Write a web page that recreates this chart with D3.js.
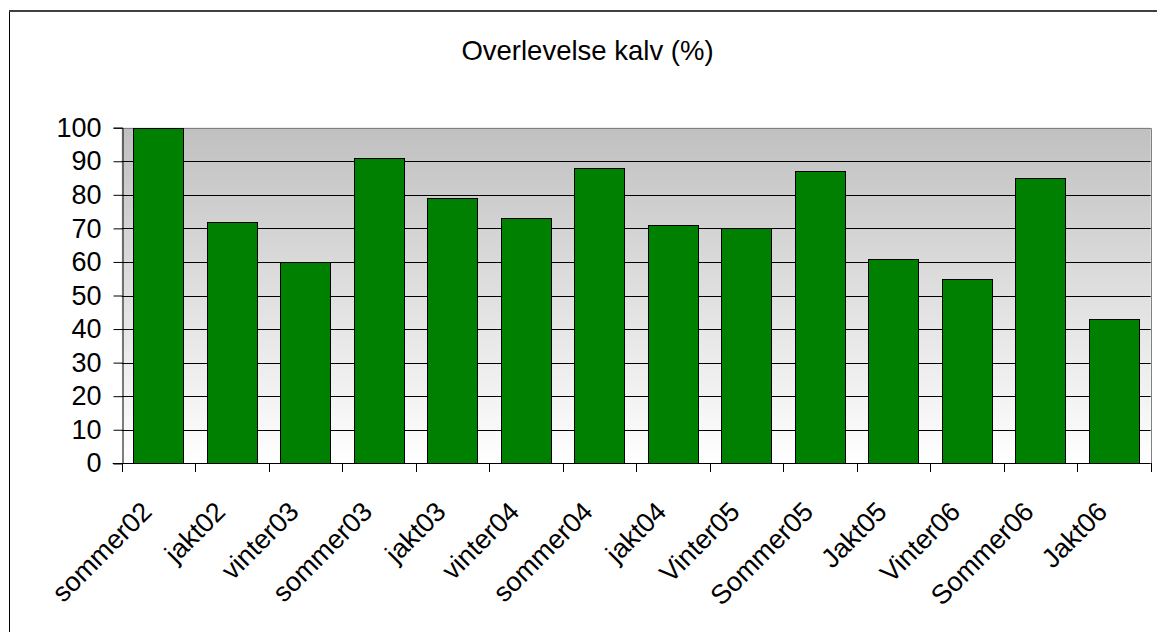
<!DOCTYPE html>
<html><head><meta charset="utf-8">
<script src="https://cdn.jsdelivr.net/npm/d3@7"></script>
<style>body{margin:0;background:#fff;} text{font-family:Arial,"Liberation Sans",sans-serif;}</style>
</head><body>
<svg id="c" width="1157" height="632"></svg>
<script>
const categories = ["sommer02","jakt02","vinter03","sommer03","jakt03","vinter04","sommer04","jakt04","Vinter05","Sommer05","Jakt05","Vinter06","Sommer06","Jakt06"];
const values = [100,72,60,91,79,73,88,71,70,87,61,55,85,43];
const yTicks = [0,10,20,30,40,50,60,70,80,90,100];
const title = "Overlevelse kalv (%)";

const svg = d3.select("#c");
const L = 121.7, R = 1150.7, T = 127.7, B = 463.3;
const x = d3.scaleBand().domain(categories).range([L, R]).paddingInner(0.32).paddingOuter(0.16);
const xb = d3.scaleBand().domain(categories).range([L, R]).padding(0);
const y = d3.scaleLinear().domain([0, 100]).range([B, T]);

const defs = svg.append("defs");
const g = defs.append("linearGradient").attr("id","bg").attr("x1",0).attr("y1",0).attr("x2",0).attr("y2",1);
g.append("stop").attr("offset","0%").attr("stop-color","#c0c0c0");
g.append("stop").attr("offset","100%").attr("stop-color","#ffffff");

// frame
svg.append("line").attr("x1",9.5).attr("x2",9.5).attr("y1",10).attr("y2",632).attr("stroke","#000").attr("stroke-width",1);
svg.append("line").attr("x1",9).attr("x2",1157).attr("y1",11).attr("y2",11).attr("stroke","#404040").attr("stroke-width",2);

// title
svg.append("text").attr("x",587.5).attr("y",60).attr("text-anchor","middle").attr("font-size",27.5).attr("fill","#000").text(title);

// plot background
svg.append("rect").attr("x",L).attr("y",T).attr("width",R-L).attr("height",B-T).attr("fill","url(#bg)");

// gridlines
svg.append("g").selectAll("line").data(yTicks.filter(d=>d>0 && d<100)).join("line")
  .attr("x1",L).attr("x2",R)
  .attr("y1",d=>Math.round(y(d))+0.5).attr("y2",d=>Math.round(y(d))+0.5)
  .attr("stroke","#000").attr("stroke-width",1);

// plot border top/right
svg.append("path").attr("d",`M${L},${Math.round(T)+0.5}H${Math.round(R)+0.5}V${B}`).attr("fill","none").attr("stroke","#808080").attr("stroke-width",1);

// bars
svg.append("g").selectAll("rect").data(values).join("rect")
  .attr("x",(d,i)=>Math.round(x(categories[i]))+0.5)
  .attr("y",d=>Math.round(y(d))+0.5)
  .attr("width",Math.round(x.bandwidth()))
  .attr("height",d=>Math.round(y(0))-Math.round(y(d)))
  .attr("fill","#008000").attr("stroke","#000").attr("stroke-width",1);

// y axis
const yAxis = d3.axisLeft(y).tickValues(yTicks).tickSize(9).tickPadding(12);
const ya = svg.append("g").attr("transform",`translate(${Math.round(L)+0.5},0)`).call(yAxis);
ya.select(".domain").attr("stroke","#000");
ya.selectAll(".tick line").attr("stroke","#000");
ya.selectAll(".tick text").attr("font-size",27).attr("fill","#000").attr("font-family","Arial, 'Liberation Sans', sans-serif");

// x axis line and ticks
svg.append("line").attr("x1",L-9).attr("x2",R).attr("y1",Math.round(B)+0.5).attr("y2",Math.round(B)+0.5).attr("stroke","#000");
const tickPos = categories.map(c=>xb(c)).concat([xb.range()[1]]);
svg.append("g").selectAll("line").data(tickPos).join("line")
  .attr("x1",d=>Math.round(d)+0.5).attr("x2",d=>Math.round(d)+0.5)
  .attr("y1",Math.round(B)).attr("y2",Math.round(B)+9).attr("stroke","#000");

// x labels
svg.append("g").selectAll("text").data(categories).join("text")
  .attr("transform",c=>`translate(${xb(c)+xb.bandwidth()/2-5},${B+50}) rotate(-45)`)
  .attr("text-anchor","end").attr("font-size",27).attr("fill","#000").text(c=>c);
</script>
</body></html>
